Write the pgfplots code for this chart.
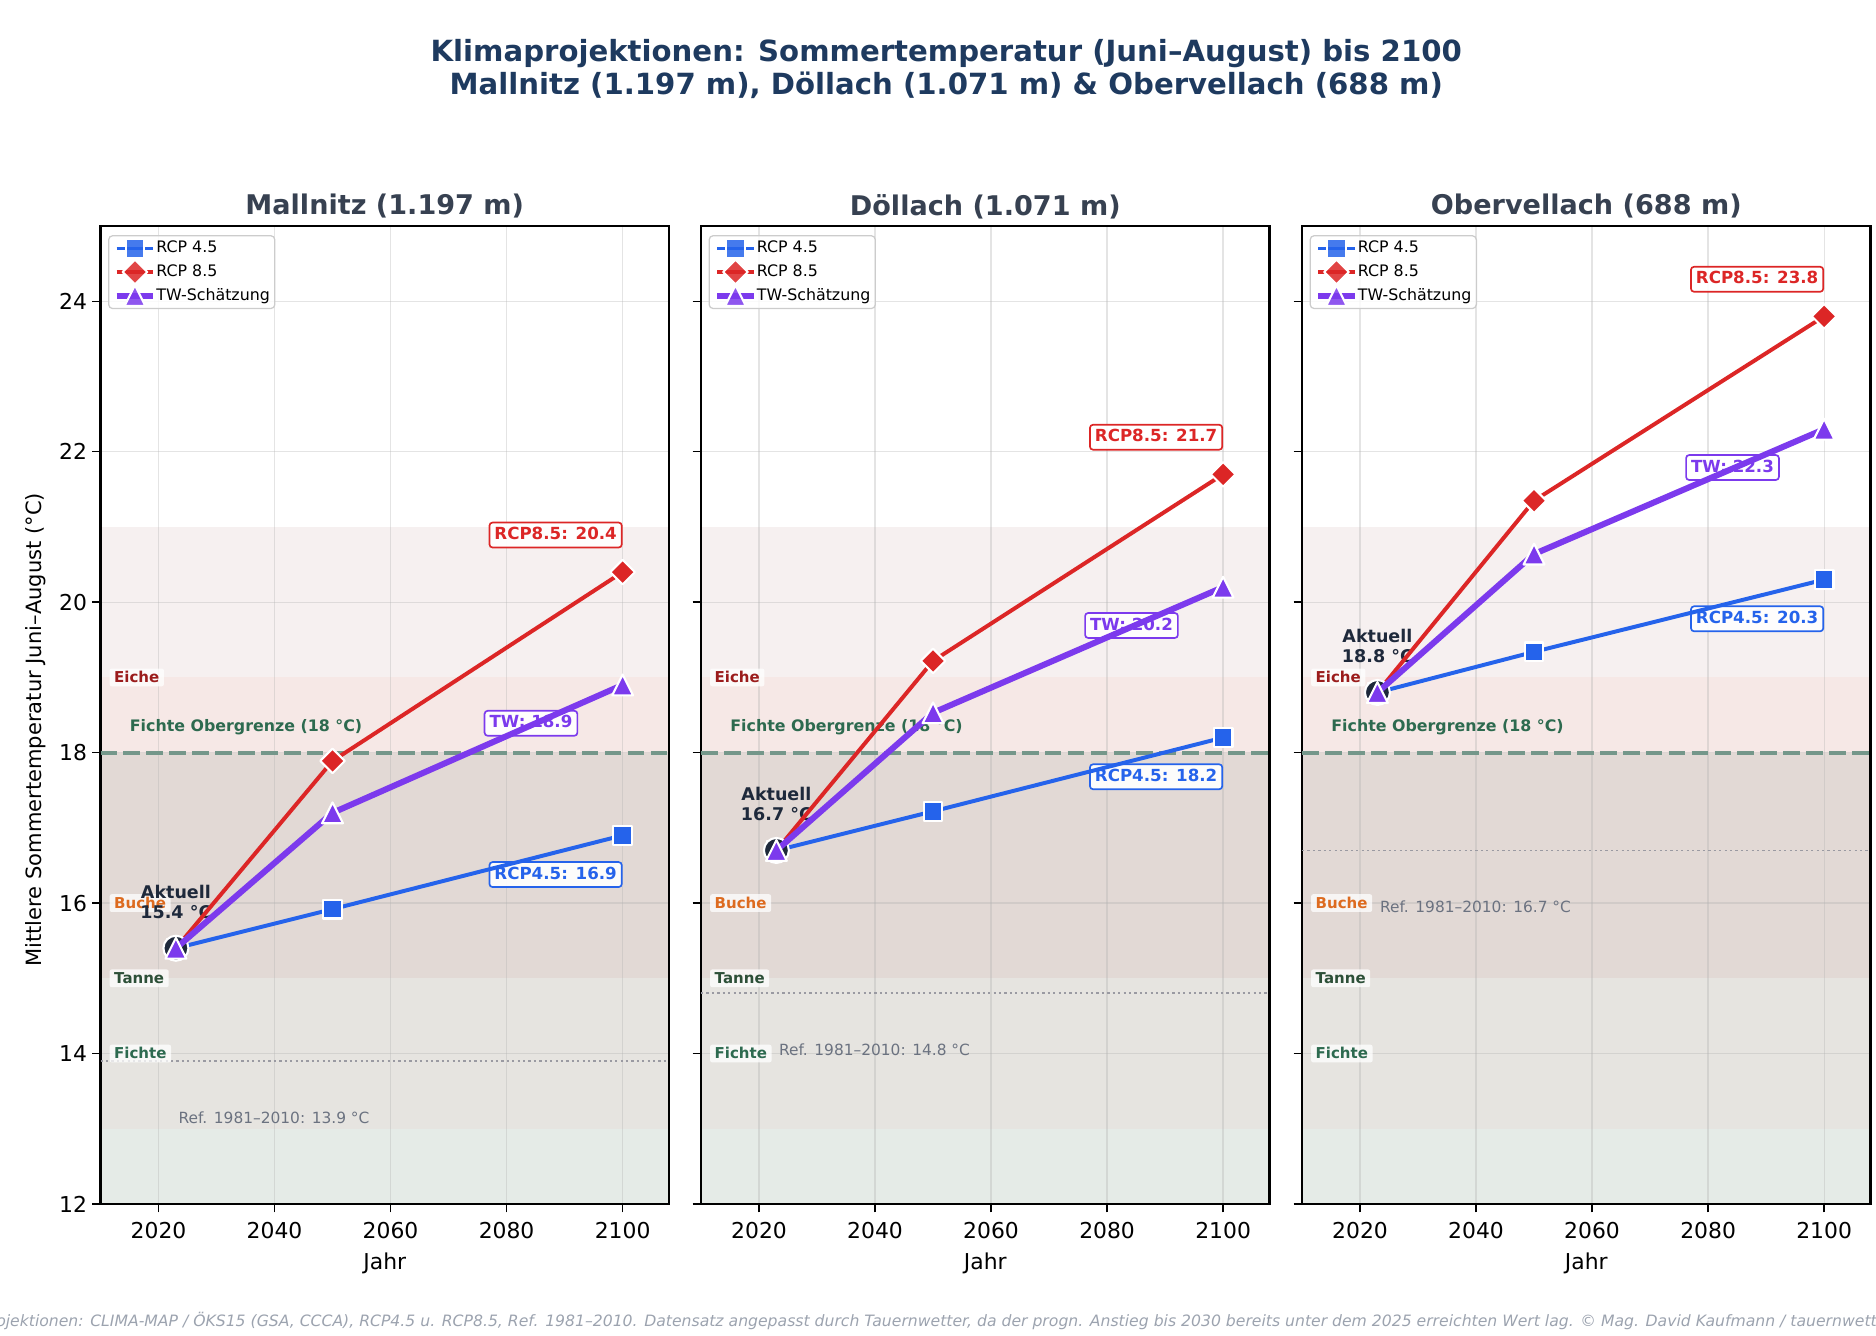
\documentclass[border=0pt]{standalone}
\usepackage{fontspec}
\setmainfont{DejaVu Sans}[ItalicFont={DejaVu Sans Oblique},BoldFont={DejaVu Sans Bold},BoldItalicFont={DejaVu Sans Bold Oblique}]
\usepackage{pgfplots}
\pgfplotsset{compat=1.18}

\definecolor{ctitle}{HTML}{1E3A5F}
\definecolor{cpanel}{HTML}{374151}
\definecolor{c45}{HTML}{2563EB}
\definecolor{c85}{HTML}{DC2626}
\definecolor{ctw}{HTML}{7C3AED}
\definecolor{cnow}{HTML}{1E293B}
\definecolor{ceiche}{HTML}{9B1C1C}
\definecolor{cbuche}{HTML}{DD6B20}
\definecolor{ctanne}{HTML}{2D5038}
\definecolor{cfichte}{HTML}{2D6A4F}
\definecolor{cdash}{HTML}{74978A}
\definecolor{cref}{HTML}{9A9AA2}
\definecolor{creftext}{HTML}{6B7280}
\definecolor{cfoot}{HTML}{9CA3AF}
\definecolor{bandA}{HTML}{F6F0F0}
\definecolor{bandB}{HTML}{F6E8E6}
\definecolor{bandC}{HTML}{E2D9D5}
\definecolor{bandD}{HTML}{E6E4E0}
\definecolor{bandE}{HTML}{E5EBE7}

% matplotlib-like markers: equal width and height
\pgfdeclareplotmark{mdiamond*}{%
  \pgfpathmoveto{\pgfqpoint{0pt}{\pgfplotmarksize}}%
  \pgfpathlineto{\pgfqpoint{\pgfplotmarksize}{0pt}}%
  \pgfpathlineto{\pgfqpoint{0pt}{-\pgfplotmarksize}}%
  \pgfpathlineto{\pgfqpoint{-\pgfplotmarksize}{0pt}}%
  \pgfpathclose\pgfusepathqfillstroke}
\pgfdeclareplotmark{mtriangle*}{%
  \pgfpathmoveto{\pgfqpoint{0pt}{\pgfplotmarksize}}%
  \pgfpathlineto{\pgfqpoint{\pgfplotmarksize}{-\pgfplotmarksize}}%
  \pgfpathlineto{\pgfqpoint{-\pgfplotmarksize}{-\pgfplotmarksize}}%
  \pgfpathclose\pgfusepathqfillstroke}

\pgfplotsset{
  panel/.style={
    set layers,
    clip mode=individual,
    width=272.9pt, height=469.4pt, scale only axis,
    anchor=south west,
    xmin=2010, xmax=2108, ymin=12, ymax=25,
    xtick={2020,2040,2060,2080,2100},
    ytick={12,14,16,18,20,22,24},
    xtick pos=bottom, ytick pos=left,
    grid=major,
    grid style={gray!60, opacity=0.35, line width=0.6pt},
    tick align=outside, major tick length=4pt,
    tick style={black, line width=0.7pt},
    axis line style={black, line width=1pt},
    /pgf/number format/1000 sep={},
    /pgf/number format/assume math mode=true,
    xticklabel style={font=\fontsize{10.5}{12}\selectfont, anchor=north, inner sep=0pt, yshift=-4.8pt},
    yticklabel style={font=\fontsize{10.5}{12}\selectfont, anchor=east, inner sep=0pt, xshift=-2.3pt},
    title style={text=cpanel, font=\bfseries\fontsize{13}{15}\selectfont, at={(0.5,1)}, anchor=center, yshift=3.4pt},
    xlabel style={font=\fontsize{10.5}{12}\selectfont, at={(0.5,0)}, anchor=center, yshift=-28.5pt},
    xlabel={Jahr},
    legend style={at={(0,1)}, anchor=north west, xshift=3.6pt, yshift=-4.3pt,
      draw=black!20, line width=0.6pt, rounded corners=2pt,
      fill=white, fill opacity=0.85, text opacity=1,
      font=\fontsize{7.6}{8.6}\selectfont,
      inner xsep=2.4pt, inner ysep=0.8pt,
      nodes={inner xsep=0pt, inner ysep=1.8pt},
      /tikz/every even column/.append style={column sep=4.8pt}},
    legend cell align=left,
    legend image code/.code={%
      \draw[mark repeat=2, mark phase=2, #1] plot coordinates {(0pt,0pt) (8.8pt,0pt) (17.6pt,0pt)};},
  },
  band/.style={draw=none, fill=#1, on layer=axis background, forget plot},
  refline/.style={cref, line width=0.9pt, dash pattern=on 1.1pt off 1.5pt, forget plot},
  limitline/.style={cdash, line width=1.8pt, dash pattern=on 8pt off 3pt, forget plot},
  s45/.style={c45, line width=1.9pt, line join=round, mark=square*, mark size=4.5pt,
    mark options={solid, fill=c45, draw=white, line width=1pt}},
  s85/.style={c85, line width=1.9pt, line join=round, mark=mdiamond*, mark size=5.9pt,
    mark options={solid, fill=c85, draw=white, line width=1pt}},
  stw/.style={ctw, line width=2.9pt, line join=round, mark=mtriangle*, mark size=5pt,
    mark options={solid, fill=ctw, draw=white, line width=1pt}},
  nowmark/.style={only marks, mark=*, mark size=6pt,
    mark options={fill=cnow, draw=white, line width=1pt}, forget plot},
}
\tikzset{
  vbox/.style={draw=#1, text=#1, fill=white, fill opacity=0.92, text opacity=1,
    rounded corners=1.5pt, line width=0.8pt,
    font=\bfseries\fontsize{8}{10}\selectfont,
    inner xsep=2.4pt, inner ysep=2.2pt, text height=6pt, text depth=1.6pt},
  splab/.style={text=#1, fill=white, fill opacity=0.75, text opacity=1,
    rounded corners=1pt, font=\bfseries\fontsize{7.2}{8}\selectfont,
    inner xsep=2.2pt, inner ysep=1.4pt, text height=5.3pt, text depth=0.4pt, anchor=west},
  nowlab/.style={text=cnow, align=center, font=\bfseries\fontsize{8.4}{9.6}\selectfont},
  reflab/.style={text=creftext, anchor=west, inner sep=0pt, font=\fontsize{7.4}{9}\selectfont},
  limlab/.style={text=cfichte, anchor=west, inner sep=0pt, font=\bfseries\fontsize{7.6}{9}\selectfont},
}

\begin{document}
\begin{tikzpicture}

% ---------------- Mallnitz ----------------
\begin{axis}[panel, at={(48.24pt,62.88pt)}, title={Mallnitz (1.197 m)}]
\addplot[band=bandE] coordinates {(2010,12) (2108,12) (2108,13) (2010,13)};
\addplot[band=bandD] coordinates {(2010,13) (2108,13) (2108,15) (2010,15)};
\addplot[band=bandC] coordinates {(2010,15) (2108,15) (2108,18) (2010,18)};
\addplot[band=bandB] coordinates {(2010,18) (2108,18) (2108,19) (2010,19)};
\addplot[band=bandA] coordinates {(2010,19) (2108,19) (2108,21) (2010,21)};
\addplot[refline] coordinates {(2010,13.9) (2108,13.9)};
\addplot[limitline] coordinates {(2010,18) (2108,18)};
\node[splab=ceiche] at (axis cs:2011.5,19) {Eiche};
\node[splab=cbuche] at (axis cs:2011.5,16) {Buche};
\node[splab=ctanne] at (axis cs:2011.5,15) {Tanne};
\node[splab=cfichte] at (axis cs:2011.5,14) {Fichte};
\node[limlab] at (axis cs:2015,18.34) {Fichte Obergrenze (18 °C)};
\node[reflab] at (axis cs:2023.4,13.15) {Ref. 1981–2010: 13.9 °C};
\node[nowlab, yshift=22.4pt] at (axis cs:2023,15.4) {Aktuell\\15.4 °C};
\node[vbox=c85, anchor=east, yshift=17.8pt] at (axis cs:2100,20.4) {RCP8.5: 20.4};
\node[vbox=ctw, anchor=east, xshift=-21.3pt, yshift=-18.4pt] at (axis cs:2100,18.9) {TW: 18.9};
\node[vbox=c45, anchor=east, yshift=-18.8pt] at (axis cs:2100,16.9) {RCP4.5: 16.9};
\addplot[s45] coordinates {(2023,15.4) (2050,15.92) (2100,16.9)};
\addplot[s85] coordinates {(2023,15.4) (2050,17.89) (2100,20.4)};
\addplot[nowmark] coordinates {(2023,15.4)};
\addplot[stw] coordinates {(2023,15.4) (2050,17.2) (2100,18.9)};
\legend{RCP 4.5, RCP 8.5, TW-Schätzung}
\end{axis}

% ---------------- Döllach ----------------
\begin{axis}[panel, at={(336.48pt,62.88pt)}, yticklabels={}, title={Döllach (1.071 m)}]
\addplot[band=bandE] coordinates {(2010,12) (2108,12) (2108,13) (2010,13)};
\addplot[band=bandD] coordinates {(2010,13) (2108,13) (2108,15) (2010,15)};
\addplot[band=bandC] coordinates {(2010,15) (2108,15) (2108,18) (2010,18)};
\addplot[band=bandB] coordinates {(2010,18) (2108,18) (2108,19) (2010,19)};
\addplot[band=bandA] coordinates {(2010,19) (2108,19) (2108,21) (2010,21)};
\addplot[refline] coordinates {(2010,14.8) (2108,14.8)};
\addplot[limitline] coordinates {(2010,18) (2108,18)};
\node[splab=ceiche] at (axis cs:2011.5,19) {Eiche};
\node[splab=cbuche] at (axis cs:2011.5,16) {Buche};
\node[splab=ctanne] at (axis cs:2011.5,15) {Tanne};
\node[splab=cfichte] at (axis cs:2011.5,14) {Fichte};
\node[limlab] at (axis cs:2015,18.34) {Fichte Obergrenze (18 °C)};
\node[reflab] at (axis cs:2023.4,14.05) {Ref. 1981–2010: 14.8 °C};
\node[nowlab, yshift=22.4pt] at (axis cs:2023,16.7) {Aktuell\\16.7 °C};
\node[vbox=c85, anchor=east, yshift=17.8pt] at (axis cs:2100,21.7) {RCP8.5: 21.7};
\node[vbox=ctw, anchor=east, xshift=-21.3pt, yshift=-18.4pt] at (axis cs:2100,20.2) {TW: 20.2};
\node[vbox=c45, anchor=east, yshift=-18.8pt] at (axis cs:2100,18.2) {RCP4.5: 18.2};
\addplot[s45] coordinates {(2023,16.7) (2050,17.22) (2100,18.2)};
\addplot[s85] coordinates {(2023,16.7) (2050,19.22) (2100,21.7)};
\addplot[nowmark] coordinates {(2023,16.7)};
\addplot[stw] coordinates {(2023,16.7) (2050,18.53) (2100,20.2)};
\legend{RCP 4.5, RCP 8.5, TW-Schätzung}
\end{axis}

% ---------------- Obervellach ----------------
\begin{axis}[panel, at={(624.96pt,62.88pt)}, yticklabels={}, title={Obervellach (688 m)}]
\addplot[band=bandE] coordinates {(2010,12) (2108,12) (2108,13) (2010,13)};
\addplot[band=bandD] coordinates {(2010,13) (2108,13) (2108,15) (2010,15)};
\addplot[band=bandC] coordinates {(2010,15) (2108,15) (2108,18) (2010,18)};
\addplot[band=bandB] coordinates {(2010,18) (2108,18) (2108,19) (2010,19)};
\addplot[band=bandA] coordinates {(2010,19) (2108,19) (2108,21) (2010,21)};
\addplot[refline] coordinates {(2010,16.7) (2108,16.7)};
\addplot[limitline] coordinates {(2010,18) (2108,18)};
\node[splab=ceiche] at (axis cs:2011.5,19) {Eiche};
\node[splab=cbuche] at (axis cs:2011.5,16) {Buche};
\node[splab=ctanne] at (axis cs:2011.5,15) {Tanne};
\node[splab=cfichte] at (axis cs:2011.5,14) {Fichte};
\node[limlab] at (axis cs:2015,18.34) {Fichte Obergrenze (18 °C)};
\node[reflab] at (axis cs:2023.4,15.95) {Ref. 1981–2010: 16.7 °C};
\node[nowlab, yshift=22.4pt] at (axis cs:2023,18.8) {Aktuell\\18.8 °C};
\node[vbox=c85, anchor=east, yshift=17.8pt] at (axis cs:2100,23.8) {RCP8.5: 23.8};
\node[vbox=ctw, anchor=east, xshift=-21.3pt, yshift=-18.4pt] at (axis cs:2100,22.3) {TW: 22.3};
\node[vbox=c45, anchor=east, yshift=-18.8pt] at (axis cs:2100,20.3) {RCP4.5: 20.3};
\addplot[s45] coordinates {(2023,18.8) (2050,19.34) (2100,20.3)};
\addplot[s85] coordinates {(2023,18.8) (2050,21.35) (2100,23.8)};
\addplot[nowmark] coordinates {(2023,18.8)};
\addplot[stw] coordinates {(2023,18.8) (2050,20.64) (2100,22.3)};
\legend{RCP 4.5, RCP 8.5, TW-Schätzung}
\end{axis}

% figure texts
\node[text=ctitle, font=\bfseries\fontsize{14}{16.8}\selectfont] at (454.2pt,615.2pt)
  {Klimaprojektionen: Sommertemperatur (Juni–August) bis 2100};
\node[text=ctitle, font=\bfseries\fontsize{14}{16.8}\selectfont] at (454.2pt,599.8pt)
  {Mallnitz (1.197 m), Döllach (1.071 m) \& Obervellach (688 m)};
\node[rotate=90, font=\fontsize{10.1}{12}\selectfont] at (17.2pt,290.5pt)
  {Mittlere Sommertemperatur Juni–August (°C)};
\node[text=cfoot, font=\itshape\fontsize{7.51}{9}\selectfont] at (454.2pt,6.8pt)
  {Projektionen: CLIMA-MAP / ÖKS15 (GSA, CCCA), RCP4.5 u. RCP8.5, Ref. 1981–2010. Datensatz angepasst durch Tauernwetter, da der progn. Anstieg bis 2030 bereits unter dem 2025 erreichten Wert lag. © Mag. David Kaufmann / tauernwetter.at};

\pgfresetboundingbox
\path[use as bounding box] (0pt,0pt) rectangle (900.48pt,640.8pt);
\end{tikzpicture}
\end{document}
